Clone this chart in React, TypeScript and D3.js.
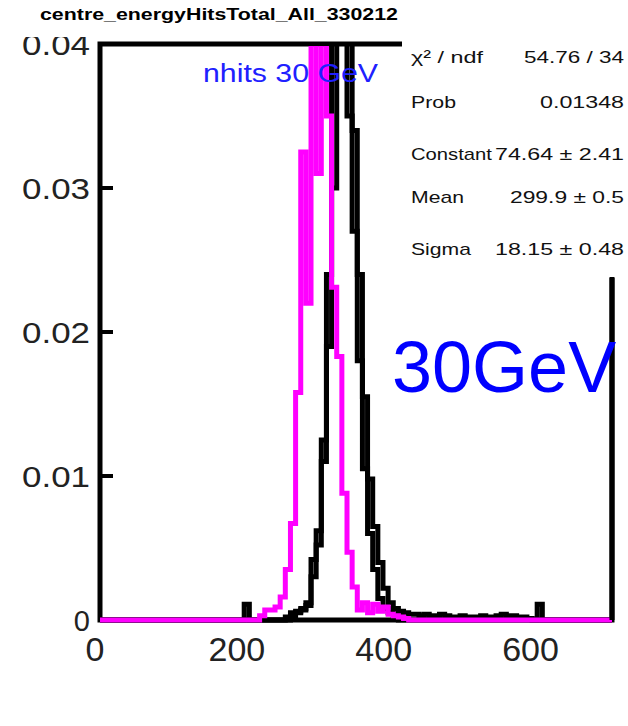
import React from "react";
import * as d3 from "d3";

const BIN_WIDTH = 7;
const N_BINS = 102;

const magentaStart = 33;
const magentaValues = [
  0.0003, 0.0007, 0.0007, 0.0009, 0.0016, 0.0035, 0.0067, 0.0158, 0.0325, 0.022,
  0.047, 0.031, 0.052, 0.035, 0.0231, 0.0183, 0.0088, 0.0047, 0.0023, 0.0007,
  0.0012, 0.0005, 0.0011, 0.0006, 0.0009, 0.0004, 0.0003, 0.0002, 0.0001,
];

const blackAStart = 38;
const blackAValues = [
  0.0002, 0.0005, 0.0006, 0.0008, 0.001, 0.0042, 0.0062, 0.0125, 0.024, 0.041,
  0.05, 0.043, 0.035, 0.027, 0.018, 0.0105, 0.006, 0.0035, 0.0015, 0.0008,
  0.0005, 0.0003,
];

const blackBStart = 39;
const blackBValues = [
  0.0003, 0.0005, 0.0007, 0.0012, 0.003, 0.0052, 0.011, 0.019, 0.030, 0.046,
  0.052, 0.045, 0.034, 0.024, 0.0155, 0.0098, 0.0065, 0.004, 0.0022, 0.0012,
  0.0008, 0.0006, 0.0005, 0.0004, 0.0004, 0.0003, 0.0004, 0.0003, 0.0003, 0.0004,
  0.0003, 0.0002, 0.0002, 0.0003, 0.0002, 0.0002, 0.0002, 0.0003, 0.0002, 0.0002,
  0.0003, 0.0004, 0.0003, 0.0003, 0.0002, 0.0002, 0.0001,
];

// isolated single-bin entries of the black histogram
const blackSpikeBins = [30, 87];
const blackSpikeValues = [0.0011, 0.0011];

const xTicks = [0, 200, 400, 600];
const yTicks = [0, 0.01, 0.02, 0.03, 0.04];
const yTickLabels = ["0", "0.01", "0.02", "0.03", "0.04"];

const title = "centre_energyHitsTotal_All_330212";
const statsLabels = ["\u03c7\u00b2 / ndf", "Prob", "Constant", "Mean", "Sigma"];
const statsValues = ["54.76 / 34", "0.01348", "74.64 \u00b1 2.41", "299.9 \u00b1 0.5", "18.15 \u00b1 0.48"];
const legendText = "nhits 30 GeV";
const bigLabel = "30GeV";

function fullBins(start: number, values: number[], extraBins: number[] = [], extraValues: number[] = []) {
  const arr = new Array(N_BINS).fill(0);
  values.forEach((v, i) => (arr[start + i] = v));
  extraBins.forEach((b, i) => (arr[b] = extraValues[i]));
  return arr;
}

export default function App() {
  const W = 628, H = 726;
  const frame = { left: 100, right: 612, top: 44, bottom: 620 };
  const x = d3.scaleLinear().domain([0, 700]).range([90, 604]);
  const y = d3.scaleLinear().domain([0, 0.04]).range([620, 44]);

  const stepPath = (vals: number[]) => {
    const p = d3.path();
    p.moveTo(x(0), y(0));
    vals.forEach((v, i) => {
      p.lineTo(x(i * BIN_WIDTH), y(v));
      p.lineTo(x((i + 1) * BIN_WIDTH), y(v));
    });
    p.lineTo(x(N_BINS * BIN_WIDTH), y(0));
    return p.toString();
  };

  const magenta = fullBins(magentaStart, magentaValues);
  const blackA = fullBins(blackAStart, blackAValues);
  const blackB = fullBins(blackBStart, blackBValues, blackSpikeBins, blackSpikeValues);

  const font = "'Liberation Sans', Arial, Helvetica, sans-serif";
  const statsY = [57, 102, 154, 197, 249];
  const labelLen = [72, 45, 81, 53, 60];
  const valueLen = [100, 84, 129, 114, 129];

  return (
    <svg width={W} height={H} style={{ display: "block", position: "absolute", left: 0, top: 0 }}>
      <defs>
        <clipPath id="plotClip">
          <rect x={frame.left} y={frame.top + 2} width={frame.right - frame.left} height={frame.bottom - frame.top + 6} />
        </clipPath>
        <clipPath id="yLabClip">
          <rect x={0} y={37} width={100} height={650} />
        </clipPath>
      </defs>
      <rect width={W} height={H} fill="#fff" />

      {/* frame */}
      <path
        d={`M${frame.left},${frame.bottom} L${frame.left},${frame.top} L${frame.right},${frame.top} L${frame.right},${frame.bottom} Z`}
        fill="none"
        stroke="#000"
        strokeWidth={5}
      />
      {yTicks.slice(1, 4).map((t) => (
        <line key={t} x1={frame.left} x2={frame.left + 13} y1={y(t)} y2={y(t)} stroke="#000" strokeWidth={4} />
      ))}

      <g clipPath="url(#plotClip)" fill="none" strokeLinejoin="miter">
        <path d={stepPath(blackA)} stroke="#000" strokeWidth={5} />
        <path d={stepPath(blackB)} stroke="#000" strokeWidth={5} />
        <path d={stepPath(magenta)} stroke="#ff00ff" strokeWidth={5} />
      </g>

      {/* stats box cover */}
      <rect x={402} y={30} width={226} height={247} fill="#fff" />
      <line x1={frame.right} x2={frame.right} y1={278} y2={frame.bottom} stroke="#000" strokeWidth={5} />

      {/* y labels */}
      <g clipPath="url(#yLabClip)">
        {yTicks.map((t, i) => (
          <text key={t} x={90} y={y(t) + 11} textAnchor="end" fontFamily={font} fontSize={29} fill="#222"
            textLength={i === 0 ? undefined : 68} lengthAdjust="spacingAndGlyphs">
            {yTickLabels[i]}
          </text>
        ))}
      </g>
      {/* x labels */}
      {xTicks.map((t) => (
        <text key={t} x={x(t) + (t === 0 ? 5 : 0)} y={661} textAnchor="middle" fontFamily={font} fontSize={34} fill="#222">
          {t}
        </text>
      ))}

      <text x={40} y={20} fontFamily={font} fontWeight="bold" fontSize={17} textLength={358} lengthAdjust="spacingAndGlyphs">
        {title}
      </text>

      {statsLabels.map((l, i) => (
        <text key={l} x={411} y={statsY[i] + 6} fontFamily={font} fontSize={17} fill="#111"
          textLength={labelLen[i]} lengthAdjust="spacingAndGlyphs">
          {l}
        </text>
      ))}
      {statsValues.map((v, i) => (
        <text key={v} x={624} y={statsY[i] + 6} textAnchor="end" fontFamily={font} fontSize={17} fill="#111"
          textLength={valueLen[i]} lengthAdjust="spacingAndGlyphs">
          {v}
        </text>
      ))}

      <text x={203} y={82} fontFamily={font} fontSize={26} fill="#2020ff" textLength={175} lengthAdjust="spacingAndGlyphs">
        {legendText}
      </text>
      <text x={392} y={392} fontFamily={font} fontSize={72} fill="#0000ff">
        {bigLabel}
      </text>
    </svg>
  );
}
